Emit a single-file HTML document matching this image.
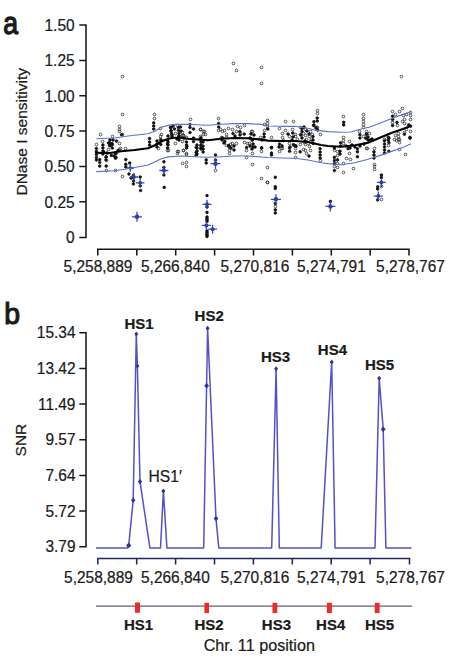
<!DOCTYPE html>
<html><head><meta charset="utf-8">
<style>
html,body{margin:0;padding:0;background:#fff;width:450px;height:658px;overflow:hidden}
svg{display:block}
text{font-family:"Liberation Sans",sans-serif;fill:#1a1a1a;stroke:#1a1a1a;stroke-width:0.22px}
</style></head>
<body>
<svg width="450" height="658" viewBox="0 0 450 658">
<!-- panel labels -->
<text transform="translate(3.3 33.9) scale(0.86 1)" font-size="31" style="stroke:#1a1a1a;stroke-width:1.25">a</text>
<text transform="translate(4.3 323.9) scale(0.94 1)" font-size="30.2" style="stroke:#1a1a1a;stroke-width:1.2">b</text>

<!-- ===== Panel a axes ===== -->
<g stroke="#181818" stroke-width="1.55" fill="none">
<path d="M79.3 25H86V237.4H79.3M79.3 60.4H86M79.3 95.7H86M79.3 131H86M79.3 166.4H86M79.3 201.7H86"/>
<path d="M97.8 255.6V249.3H409V255.6M136.8 249.3V255.6M175.7 249.3V255.6M214.6 249.3V255.6M253.5 249.3V255.6M292.4 249.3V255.6M331.3 249.3V255.6M370.2 249.3V255.6"/>
</g>
<g font-size="16.3" transform="scale(0.95 1)" text-anchor="end">
<text x="78.55" y="31.1">1.50</text>
<text x="78.55" y="66.5">1.25</text>
<text x="78.55" y="101.8">1.00</text>
<text x="78.55" y="137.1">0.75</text>
<text x="78.55" y="172.5">0.50</text>
<text x="78.55" y="207.8">0.25</text>
<text x="78.55" y="243.5">0</text>
</g>
<g font-size="16.3" transform="scale(0.95 1)" text-anchor="middle">
<text x="103.16" y="271.8">5,258,889</text>
<text x="184.63" y="271.8">5,266,840</text>
<text x="268.30" y="271.8">5,270,816</text>
<text x="348.84" y="271.8">5,274,791</text>
<text x="432.11" y="271.8">5,278,767</text>
</g>
<text font-size="15.5" text-anchor="middle" transform="translate(27.2 131.8) rotate(-90)">DNase I sensitivity</text>

<g fill="#fff" fill-opacity="0" stroke="#2a2a2a" stroke-width="0.80">
<circle cx="122.5" cy="76.5" r="1.35"/>
<circle cx="233.5" cy="63.5" r="1.35"/>
<circle cx="236.5" cy="70.5" r="1.35"/>
<circle cx="261.5" cy="67.5" r="1.35"/>
<circle cx="261.5" cy="83.5" r="1.35"/>
<circle cx="401.5" cy="76.5" r="1.35"/>
<circle cx="122.5" cy="114.5" r="1.35"/>
<circle cx="154.5" cy="114.5" r="1.35"/>
<circle cx="154.5" cy="118.5" r="1.35"/>
<circle cx="190.5" cy="119.5" r="1.35"/>
<circle cx="119.5" cy="126.5" r="1.35"/>
<circle cx="119.5" cy="129.5" r="1.35"/>
<circle cx="119.5" cy="131.5" r="1.35"/>
<circle cx="122.5" cy="134.5" r="1.35"/>
<circle cx="100.5" cy="134.5" r="1.35"/>
<circle cx="112.5" cy="136.5" r="1.35"/>
<circle cx="119.5" cy="143.5" r="1.35"/>
<circle cx="96.5" cy="144.5" r="1.35"/>
<circle cx="102.5" cy="141.5" r="1.35"/>
<circle cx="108.5" cy="149.5" r="1.35"/>
<circle cx="120.5" cy="148.5" r="1.35"/>
<circle cx="125.5" cy="148.5" r="1.35"/>
<circle cx="119.5" cy="149.5" r="1.35"/>
<circle cx="106.5" cy="160.5" r="1.35"/>
<circle cx="106.5" cy="170.5" r="1.35"/>
<circle cx="115.5" cy="170.5" r="1.35"/>
<circle cx="122.5" cy="176.5" r="1.35"/>
<circle cx="160.5" cy="128.5" r="1.35"/>
<circle cx="161.5" cy="134.5" r="1.35"/>
<circle cx="160.5" cy="136.5" r="1.35"/>
<circle cx="160.5" cy="139.5" r="1.35"/>
<circle cx="168.5" cy="150.5" r="1.35"/>
<circle cx="177.5" cy="125.5" r="1.35"/>
<circle cx="175.5" cy="133.5" r="1.35"/>
<circle cx="182.5" cy="135.5" r="1.35"/>
<circle cx="184.5" cy="138.5" r="1.35"/>
<circle cx="175.5" cy="143.5" r="1.35"/>
<circle cx="182.5" cy="141.5" r="1.35"/>
<circle cx="183.5" cy="135.5" r="1.35"/>
<circle cx="186.5" cy="137.5" r="1.35"/>
<circle cx="200.5" cy="129.5" r="1.35"/>
<circle cx="203.5" cy="131.5" r="1.35"/>
<circle cx="203.5" cy="134.5" r="1.35"/>
<circle cx="200.5" cy="136.5" r="1.35"/>
<circle cx="178.5" cy="151.5" r="1.35"/>
<circle cx="183.5" cy="150.5" r="1.35"/>
<circle cx="186.5" cy="153.5" r="1.35"/>
<circle cx="158.5" cy="148.5" r="1.35"/>
<circle cx="167.5" cy="150.5" r="1.35"/>
<circle cx="177.5" cy="151.5" r="1.35"/>
<circle cx="177.5" cy="153.5" r="1.35"/>
<circle cx="183.5" cy="150.5" r="1.35"/>
<circle cx="186.5" cy="154.5" r="1.35"/>
<circle cx="182.5" cy="163.5" r="1.35"/>
<circle cx="186.5" cy="162.5" r="1.35"/>
<circle cx="186.5" cy="166.5" r="1.35"/>
<circle cx="218.5" cy="118.5" r="1.35"/>
<circle cx="218.5" cy="130.5" r="1.35"/>
<circle cx="220.5" cy="129.5" r="1.35"/>
<circle cx="224.5" cy="130.5" r="1.35"/>
<circle cx="228.5" cy="128.5" r="1.35"/>
<circle cx="232.5" cy="129.5" r="1.35"/>
<circle cx="236.5" cy="131.5" r="1.35"/>
<circle cx="240.5" cy="133.5" r="1.35"/>
<circle cx="222.5" cy="131.5" r="1.35"/>
<circle cx="226.5" cy="134.5" r="1.35"/>
<circle cx="237.5" cy="126.5" r="1.35"/>
<circle cx="240.5" cy="127.5" r="1.35"/>
<circle cx="244.5" cy="125.5" r="1.35"/>
<circle cx="251.5" cy="131.5" r="1.35"/>
<circle cx="226.5" cy="137.5" r="1.35"/>
<circle cx="200.5" cy="129.5" r="1.35"/>
<circle cx="204.5" cy="131.5" r="1.35"/>
<circle cx="205.5" cy="134.5" r="1.35"/>
<circle cx="226.5" cy="145.5" r="1.35"/>
<circle cx="229.5" cy="147.5" r="1.35"/>
<circle cx="230.5" cy="144.5" r="1.35"/>
<circle cx="236.5" cy="143.5" r="1.35"/>
<circle cx="244.5" cy="142.5" r="1.35"/>
<circle cx="247.5" cy="143.5" r="1.35"/>
<circle cx="215.5" cy="170.5" r="1.35"/>
<circle cx="229.5" cy="150.5" r="1.35"/>
<circle cx="229.5" cy="153.5" r="1.35"/>
<circle cx="246.5" cy="150.5" r="1.35"/>
<circle cx="246.5" cy="157.5" r="1.35"/>
<circle cx="252.5" cy="153.5" r="1.35"/>
<circle cx="252.5" cy="164.5" r="1.35"/>
<circle cx="267.5" cy="120.5" r="1.35"/>
<circle cx="267.5" cy="123.5" r="1.35"/>
<circle cx="267.5" cy="126.5" r="1.35"/>
<circle cx="264.5" cy="124.5" r="1.35"/>
<circle cx="285.5" cy="121.5" r="1.35"/>
<circle cx="293.5" cy="121.5" r="1.35"/>
<circle cx="279.5" cy="128.5" r="1.35"/>
<circle cx="264.5" cy="130.5" r="1.35"/>
<circle cx="260.5" cy="137.5" r="1.35"/>
<circle cx="271.5" cy="137.5" r="1.35"/>
<circle cx="282.5" cy="133.5" r="1.35"/>
<circle cx="282.5" cy="137.5" r="1.35"/>
<circle cx="283.5" cy="140.5" r="1.35"/>
<circle cx="285.5" cy="130.5" r="1.35"/>
<circle cx="292.5" cy="129.5" r="1.35"/>
<circle cx="295.5" cy="136.5" r="1.35"/>
<circle cx="289.5" cy="136.5" r="1.35"/>
<circle cx="295.5" cy="134.5" r="1.35"/>
<circle cx="297.5" cy="139.5" r="1.35"/>
<circle cx="300.5" cy="134.5" r="1.35"/>
<circle cx="305.5" cy="135.5" r="1.35"/>
<circle cx="306.5" cy="139.5" r="1.35"/>
<circle cx="309.5" cy="136.5" r="1.35"/>
<circle cx="304.5" cy="142.5" r="1.35"/>
<circle cx="308.5" cy="143.5" r="1.35"/>
<circle cx="310.5" cy="131.5" r="1.35"/>
<circle cx="311.5" cy="139.5" r="1.35"/>
<circle cx="281.5" cy="148.5" r="1.35"/>
<circle cx="289.5" cy="143.5" r="1.35"/>
<circle cx="293.5" cy="144.5" r="1.35"/>
<circle cx="295.5" cy="148.5" r="1.35"/>
<circle cx="300.5" cy="144.5" r="1.35"/>
<circle cx="305.5" cy="144.5" r="1.35"/>
<circle cx="309.5" cy="146.5" r="1.35"/>
<circle cx="261.5" cy="151.5" r="1.35"/>
<circle cx="279.5" cy="151.5" r="1.35"/>
<circle cx="282.5" cy="148.5" r="1.35"/>
<circle cx="295.5" cy="152.5" r="1.35"/>
<circle cx="295.5" cy="157.5" r="1.35"/>
<circle cx="305.5" cy="150.5" r="1.35"/>
<circle cx="306.5" cy="153.5" r="1.35"/>
<circle cx="310.5" cy="150.5" r="1.35"/>
<circle cx="303.5" cy="149.5" r="1.35"/>
<circle cx="267.5" cy="167.5" r="1.35"/>
<circle cx="261.5" cy="178.5" r="1.35"/>
<circle cx="267.5" cy="182.5" r="1.35"/>
<circle cx="267.5" cy="182.5" r="1.35"/>
<circle cx="275.5" cy="206.5" r="1.35"/>
<circle cx="317.5" cy="110.5" r="1.35"/>
<circle cx="317.5" cy="113.5" r="1.35"/>
<circle cx="317.5" cy="127.5" r="1.35"/>
<circle cx="320.5" cy="134.5" r="1.35"/>
<circle cx="343.5" cy="116.5" r="1.35"/>
<circle cx="343.5" cy="137.5" r="1.35"/>
<circle cx="343.5" cy="140.5" r="1.35"/>
<circle cx="343.5" cy="143.5" r="1.35"/>
<circle cx="363.5" cy="114.5" r="1.35"/>
<circle cx="363.5" cy="118.5" r="1.35"/>
<circle cx="363.5" cy="121.5" r="1.35"/>
<circle cx="363.5" cy="124.5" r="1.35"/>
<circle cx="363.5" cy="127.5" r="1.35"/>
<circle cx="359.5" cy="131.5" r="1.35"/>
<circle cx="363.5" cy="136.5" r="1.35"/>
<circle cx="366.5" cy="134.5" r="1.35"/>
<circle cx="349.5" cy="141.5" r="1.35"/>
<circle cx="320.5" cy="160.5" r="1.35"/>
<circle cx="334.5" cy="150.5" r="1.35"/>
<circle cx="337.5" cy="151.5" r="1.35"/>
<circle cx="337.5" cy="155.5" r="1.35"/>
<circle cx="334.5" cy="166.5" r="1.35"/>
<circle cx="337.5" cy="163.5" r="1.35"/>
<circle cx="337.5" cy="167.5" r="1.35"/>
<circle cx="343.5" cy="163.5" r="1.35"/>
<circle cx="343.5" cy="172.5" r="1.35"/>
<circle cx="346.5" cy="158.5" r="1.35"/>
<circle cx="350.5" cy="159.5" r="1.35"/>
<circle cx="349.5" cy="153.5" r="1.35"/>
<circle cx="353.5" cy="168.5" r="1.35"/>
<circle cx="366.5" cy="148.5" r="1.35"/>
<circle cx="392.5" cy="111.5" r="1.35"/>
<circle cx="399.5" cy="111.5" r="1.35"/>
<circle cx="402.5" cy="108.5" r="1.35"/>
<circle cx="395.5" cy="114.5" r="1.35"/>
<circle cx="392.5" cy="122.5" r="1.35"/>
<circle cx="397.5" cy="125.5" r="1.35"/>
<circle cx="403.5" cy="115.5" r="1.35"/>
<circle cx="406.5" cy="114.5" r="1.35"/>
<circle cx="410.5" cy="112.5" r="1.35"/>
<circle cx="404.5" cy="119.5" r="1.35"/>
<circle cx="404.5" cy="123.5" r="1.35"/>
<circle cx="402.5" cy="121.5" r="1.35"/>
<circle cx="410.5" cy="115.5" r="1.35"/>
<circle cx="410.5" cy="119.5" r="1.35"/>
<circle cx="406.5" cy="129.5" r="1.35"/>
<circle cx="410.5" cy="131.5" r="1.35"/>
<circle cx="404.5" cy="132.5" r="1.35"/>
<circle cx="398.5" cy="133.5" r="1.35"/>
<circle cx="398.5" cy="136.5" r="1.35"/>
<circle cx="395.5" cy="135.5" r="1.35"/>
<circle cx="394.5" cy="139.5" r="1.35"/>
<circle cx="398.5" cy="139.5" r="1.35"/>
<circle cx="384.5" cy="139.5" r="1.35"/>
<circle cx="366.5" cy="131.5" r="1.35"/>
<circle cx="369.5" cy="133.5" r="1.35"/>
<circle cx="367.5" cy="148.5" r="1.35"/>
<circle cx="374.5" cy="148.5" r="1.35"/>
<circle cx="388.5" cy="145.5" r="1.35"/>
<circle cx="396.5" cy="140.5" r="1.35"/>
<circle cx="399.5" cy="139.5" r="1.35"/>
<circle cx="399.5" cy="142.5" r="1.35"/>
<circle cx="399.5" cy="149.5" r="1.35"/>
<circle cx="405.5" cy="154.5" r="1.35"/>
<circle cx="374.5" cy="164.5" r="1.35"/>
<circle cx="374.5" cy="166.5" r="1.35"/>
<circle cx="374.5" cy="169.5" r="1.35"/>
<circle cx="381.5" cy="186.5" r="1.35"/>
<circle cx="381.5" cy="199.5" r="1.35"/>
<circle cx="221.5" cy="137.5" r="1.35"/>
<circle cx="232.5" cy="143.5" r="1.35"/>
<circle cx="252.5" cy="131.5" r="1.35"/>
<circle cx="249.5" cy="143.5" r="1.35"/>
<circle cx="300.5" cy="127.5" r="1.35"/>
<circle cx="305.5" cy="129.5" r="1.35"/>
<circle cx="303.5" cy="133.5" r="1.35"/>
<circle cx="312.5" cy="134.5" r="1.35"/>
<circle cx="310.5" cy="141.5" r="1.35"/>
<circle cx="182.5" cy="132.5" r="1.35"/>
<circle cx="183.5" cy="135.5" r="1.35"/>
<circle cx="316.5" cy="127.5" r="1.35"/>
</g>
<g fill="#111" stroke="#111" stroke-width="0.8">
<circle cx="153.7" cy="122.9" r="1.30"/>
<circle cx="153.7" cy="126.0" r="1.30"/>
<circle cx="153.7" cy="129.0" r="1.30"/>
<circle cx="121.6" cy="134.7" r="1.30"/>
<circle cx="110.0" cy="139.9" r="1.30"/>
<circle cx="108.5" cy="143.0" r="1.30"/>
<circle cx="112.0" cy="143.6" r="1.30"/>
<circle cx="110.5" cy="145.5" r="1.30"/>
<circle cx="116.5" cy="141.1" r="1.30"/>
<circle cx="113.0" cy="140.0" r="1.30"/>
<circle cx="96.4" cy="148.5" r="1.30"/>
<circle cx="96.4" cy="151.5" r="1.30"/>
<circle cx="96.4" cy="154.5" r="1.30"/>
<circle cx="96.4" cy="157.5" r="1.30"/>
<circle cx="96.4" cy="160.0" r="1.30"/>
<circle cx="102.9" cy="145.0" r="1.30"/>
<circle cx="102.9" cy="148.0" r="1.30"/>
<circle cx="102.9" cy="151.0" r="1.30"/>
<circle cx="102.9" cy="154.0" r="1.30"/>
<circle cx="104.0" cy="152.3" r="1.30"/>
<circle cx="107.0" cy="153.0" r="1.30"/>
<circle cx="109.5" cy="142.8" r="1.30"/>
<circle cx="109.5" cy="145.5" r="1.30"/>
<circle cx="112.3" cy="144.7" r="1.30"/>
<circle cx="112.3" cy="148.0" r="1.30"/>
<circle cx="111.3" cy="155.4" r="1.30"/>
<circle cx="118.0" cy="150.5" r="1.30"/>
<circle cx="116.0" cy="153.6" r="1.30"/>
<circle cx="116.0" cy="157.3" r="1.30"/>
<circle cx="115.5" cy="153.1" r="1.30"/>
<circle cx="115.5" cy="158.2" r="1.30"/>
<circle cx="114.0" cy="156.0" r="1.30"/>
<circle cx="106.0" cy="159.8" r="1.30"/>
<circle cx="106.0" cy="157.3" r="1.30"/>
<circle cx="99.7" cy="159.6" r="1.30"/>
<circle cx="99.7" cy="162.5" r="1.30"/>
<circle cx="99.7" cy="166.1" r="1.30"/>
<circle cx="106.2" cy="156.8" r="1.30"/>
<circle cx="106.2" cy="166.1" r="1.30"/>
<circle cx="125.8" cy="159.6" r="1.30"/>
<circle cx="125.8" cy="164.3" r="1.30"/>
<circle cx="125.8" cy="167.0" r="1.30"/>
<circle cx="129.7" cy="163.0" r="1.30"/>
<circle cx="129.0" cy="174.0" r="1.30"/>
<circle cx="133.4" cy="175.5" r="1.30"/>
<circle cx="133.4" cy="184.0" r="1.30"/>
<circle cx="133.1" cy="177.5" r="1.30"/>
<circle cx="140.2" cy="177.0" r="1.30"/>
<circle cx="140.2" cy="186.0" r="1.30"/>
<circle cx="140.6" cy="190.5" r="1.30"/>
<circle cx="149.6" cy="138.5" r="1.30"/>
<circle cx="149.6" cy="142.0" r="1.30"/>
<circle cx="149.6" cy="145.0" r="1.30"/>
<circle cx="157.0" cy="141.0" r="1.30"/>
<circle cx="157.0" cy="144.0" r="1.30"/>
<circle cx="157.0" cy="147.0" r="1.30"/>
<circle cx="161.0" cy="140.0" r="1.30"/>
<circle cx="160.8" cy="144.5" r="1.30"/>
<circle cx="168.0" cy="136.0" r="1.30"/>
<circle cx="167.6" cy="140.0" r="1.30"/>
<circle cx="168.0" cy="142.0" r="1.30"/>
<circle cx="167.6" cy="144.0" r="1.30"/>
<circle cx="168.0" cy="145.0" r="1.30"/>
<circle cx="167.6" cy="148.0" r="1.30"/>
<circle cx="170.5" cy="127.5" r="1.30"/>
<circle cx="173.0" cy="126.0" r="1.30"/>
<circle cx="180.5" cy="127.0" r="1.30"/>
<circle cx="171.0" cy="131.0" r="1.30"/>
<circle cx="181.0" cy="131.0" r="1.30"/>
<circle cx="172.0" cy="135.0" r="1.30"/>
<circle cx="179.0" cy="136.0" r="1.30"/>
<circle cx="177.0" cy="139.0" r="1.30"/>
<circle cx="179.0" cy="140.0" r="1.30"/>
<circle cx="186.5" cy="142.0" r="1.30"/>
<circle cx="186.5" cy="145.0" r="1.30"/>
<circle cx="186.5" cy="148.0" r="1.30"/>
<circle cx="190.0" cy="124.5" r="1.30"/>
<circle cx="190.0" cy="127.5" r="1.30"/>
<circle cx="190.0" cy="132.5" r="1.30"/>
<circle cx="193.5" cy="129.0" r="1.30"/>
<circle cx="193.5" cy="138.0" r="1.30"/>
<circle cx="193.5" cy="141.5" r="1.30"/>
<circle cx="200.0" cy="139.0" r="1.30"/>
<circle cx="203.0" cy="142.0" r="1.30"/>
<circle cx="197.0" cy="145.0" r="1.30"/>
<circle cx="197.0" cy="148.0" r="1.30"/>
<circle cx="197.0" cy="151.0" r="1.30"/>
<circle cx="197.0" cy="154.0" r="1.30"/>
<circle cx="201.0" cy="145.0" r="1.30"/>
<circle cx="201.0" cy="148.0" r="1.30"/>
<circle cx="186.9" cy="146.2" r="1.30"/>
<circle cx="196.2" cy="147.5" r="1.30"/>
<circle cx="196.2" cy="152.5" r="1.30"/>
<circle cx="196.2" cy="155.0" r="1.30"/>
<circle cx="163.9" cy="161.8" r="1.30"/>
<circle cx="163.9" cy="167.4" r="1.30"/>
<circle cx="163.9" cy="174.9" r="1.30"/>
<circle cx="164.2" cy="187.4" r="1.30"/>
<circle cx="218.7" cy="123.5" r="1.30"/>
<circle cx="218.7" cy="127.0" r="1.30"/>
<circle cx="233.0" cy="133.5" r="1.30"/>
<circle cx="235.0" cy="136.0" r="1.30"/>
<circle cx="239.8" cy="131.6" r="1.30"/>
<circle cx="240.0" cy="135.0" r="1.30"/>
<circle cx="244.2" cy="134.1" r="1.30"/>
<circle cx="251.0" cy="134.0" r="1.30"/>
<circle cx="222.4" cy="137.9" r="1.30"/>
<circle cx="201.0" cy="137.9" r="1.30"/>
<circle cx="201.0" cy="142.0" r="1.30"/>
<circle cx="201.0" cy="146.0" r="1.30"/>
<circle cx="201.0" cy="149.0" r="1.30"/>
<circle cx="224.9" cy="141.6" r="1.30"/>
<circle cx="234.0" cy="146.0" r="1.30"/>
<circle cx="234.0" cy="150.0" r="1.30"/>
<circle cx="250.0" cy="146.0" r="1.30"/>
<circle cx="252.0" cy="149.0" r="1.30"/>
<circle cx="252.2" cy="140.3" r="1.30"/>
<circle cx="203.1" cy="146.2" r="1.30"/>
<circle cx="203.1" cy="149.0" r="1.30"/>
<circle cx="203.1" cy="152.0" r="1.30"/>
<circle cx="206.2" cy="159.9" r="1.30"/>
<circle cx="206.2" cy="163.0" r="1.30"/>
<circle cx="215.5" cy="155.0" r="1.30"/>
<circle cx="215.5" cy="160.0" r="1.30"/>
<circle cx="228.6" cy="145.6" r="1.30"/>
<circle cx="246.6" cy="147.5" r="1.30"/>
<circle cx="252.9" cy="146.9" r="1.30"/>
<circle cx="207.0" cy="195.6" r="1.30"/>
<circle cx="207.0" cy="207.0" r="1.30"/>
<circle cx="207.0" cy="212.4" r="1.30"/>
<circle cx="207.0" cy="218.6" r="1.30"/>
<circle cx="207.0" cy="221.5" r="1.30"/>
<circle cx="207.0" cy="231.0" r="1.30"/>
<circle cx="207.0" cy="234.0" r="1.30"/>
<circle cx="207.0" cy="236.5" r="1.30"/>
<circle cx="267.8" cy="129.0" r="1.30"/>
<circle cx="264.1" cy="134.0" r="1.30"/>
<circle cx="264.1" cy="137.0" r="1.30"/>
<circle cx="262.0" cy="140.0" r="1.30"/>
<circle cx="288.0" cy="134.0" r="1.30"/>
<circle cx="292.7" cy="133.0" r="1.30"/>
<circle cx="292.0" cy="140.0" r="1.30"/>
<circle cx="302.0" cy="128.5" r="1.30"/>
<circle cx="302.0" cy="131.5" r="1.30"/>
<circle cx="302.0" cy="138.0" r="1.30"/>
<circle cx="261.6" cy="147.8" r="1.30"/>
<circle cx="271.5" cy="147.8" r="1.30"/>
<circle cx="279.6" cy="144.1" r="1.30"/>
<circle cx="282.1" cy="145.9" r="1.30"/>
<circle cx="290.0" cy="147.0" r="1.30"/>
<circle cx="295.8" cy="145.9" r="1.30"/>
<circle cx="261.6" cy="148.1" r="1.30"/>
<circle cx="271.5" cy="147.5" r="1.30"/>
<circle cx="271.5" cy="153.1" r="1.30"/>
<circle cx="271.5" cy="155.0" r="1.30"/>
<circle cx="279.0" cy="146.9" r="1.30"/>
<circle cx="289.6" cy="148.1" r="1.30"/>
<circle cx="289.6" cy="151.2" r="1.30"/>
<circle cx="295.8" cy="146.2" r="1.30"/>
<circle cx="300.2" cy="151.8" r="1.30"/>
<circle cx="309.0" cy="156.0" r="1.30"/>
<circle cx="275.3" cy="177.3" r="1.30"/>
<circle cx="275.3" cy="186.7" r="1.30"/>
<circle cx="275.3" cy="188.5" r="1.30"/>
<circle cx="275.3" cy="203.6" r="1.30"/>
<circle cx="275.3" cy="209.9" r="1.30"/>
<circle cx="275.3" cy="213.0" r="1.30"/>
<circle cx="317.2" cy="118.0" r="1.30"/>
<circle cx="317.2" cy="121.0" r="1.30"/>
<circle cx="313.9" cy="121.7" r="1.30"/>
<circle cx="313.9" cy="125.0" r="1.30"/>
<circle cx="316.0" cy="128.0" r="1.30"/>
<circle cx="317.6" cy="130.0" r="1.30"/>
<circle cx="313.0" cy="136.6" r="1.30"/>
<circle cx="313.0" cy="140.0" r="1.30"/>
<circle cx="313.2" cy="143.4" r="1.30"/>
<circle cx="343.7" cy="122.3" r="1.30"/>
<circle cx="343.7" cy="125.0" r="1.30"/>
<circle cx="359.9" cy="134.7" r="1.30"/>
<circle cx="359.9" cy="138.0" r="1.30"/>
<circle cx="352.0" cy="145.0" r="1.30"/>
<circle cx="340.6" cy="142.8" r="1.30"/>
<circle cx="340.6" cy="146.0" r="1.30"/>
<circle cx="346.0" cy="146.0" r="1.30"/>
<circle cx="350.0" cy="148.0" r="1.30"/>
<circle cx="355.0" cy="147.0" r="1.30"/>
<circle cx="360.0" cy="146.0" r="1.30"/>
<circle cx="364.0" cy="144.0" r="1.30"/>
<circle cx="320.1" cy="148.7" r="1.30"/>
<circle cx="320.1" cy="152.0" r="1.30"/>
<circle cx="320.1" cy="155.0" r="1.30"/>
<circle cx="320.1" cy="158.0" r="1.30"/>
<circle cx="334.4" cy="148.1" r="1.30"/>
<circle cx="334.4" cy="157.4" r="1.30"/>
<circle cx="334.4" cy="160.5" r="1.30"/>
<circle cx="334.4" cy="163.5" r="1.30"/>
<circle cx="334.4" cy="170.5" r="1.30"/>
<circle cx="337.5" cy="159.9" r="1.30"/>
<circle cx="340.0" cy="151.2" r="1.30"/>
<circle cx="340.0" cy="154.0" r="1.30"/>
<circle cx="348.1" cy="148.7" r="1.30"/>
<circle cx="357.4" cy="148.7" r="1.30"/>
<circle cx="357.4" cy="151.8" r="1.30"/>
<circle cx="357.4" cy="156.8" r="1.30"/>
<circle cx="330.4" cy="201.4" r="1.30"/>
<circle cx="392.6" cy="116.2" r="1.30"/>
<circle cx="392.6" cy="119.5" r="1.30"/>
<circle cx="392.6" cy="125.5" r="1.30"/>
<circle cx="397.0" cy="122.4" r="1.30"/>
<circle cx="408.8" cy="124.9" r="1.30"/>
<circle cx="410.6" cy="126.1" r="1.30"/>
<circle cx="404.4" cy="134.2" r="1.30"/>
<circle cx="410.0" cy="137.3" r="1.30"/>
<circle cx="388.3" cy="137.3" r="1.30"/>
<circle cx="388.3" cy="140.0" r="1.30"/>
<circle cx="366.5" cy="134.0" r="1.30"/>
<circle cx="368.0" cy="137.0" r="1.30"/>
<circle cx="370.0" cy="140.0" r="1.30"/>
<circle cx="365.9" cy="138.2" r="1.30"/>
<circle cx="368.0" cy="140.0" r="1.30"/>
<circle cx="372.0" cy="139.0" r="1.30"/>
<circle cx="374.0" cy="151.9" r="1.30"/>
<circle cx="374.0" cy="155.0" r="1.30"/>
<circle cx="374.0" cy="158.0" r="1.30"/>
<circle cx="384.5" cy="140.7" r="1.30"/>
<circle cx="384.5" cy="144.0" r="1.30"/>
<circle cx="384.5" cy="147.0" r="1.30"/>
<circle cx="384.5" cy="150.0" r="1.30"/>
<circle cx="384.5" cy="153.0" r="1.30"/>
<circle cx="388.9" cy="138.2" r="1.30"/>
<circle cx="388.9" cy="142.6" r="1.30"/>
<circle cx="388.9" cy="151.3" r="1.30"/>
<circle cx="410.0" cy="138.2" r="1.30"/>
<circle cx="381.4" cy="175.0" r="1.30"/>
<circle cx="381.4" cy="177.5" r="1.30"/>
<circle cx="377.7" cy="186.8" r="1.30"/>
<circle cx="377.7" cy="189.0" r="1.30"/>
<circle cx="377.7" cy="199.9" r="1.30"/>
<circle cx="222.0" cy="140.0" r="1.30"/>
<circle cx="224.0" cy="143.0" r="1.30"/>
<circle cx="229.0" cy="146.0" r="1.30"/>
<circle cx="231.0" cy="148.0" r="1.30"/>
<circle cx="250.0" cy="138.0" r="1.30"/>
<circle cx="254.0" cy="135.0" r="1.30"/>
<circle cx="253.0" cy="144.0" r="1.30"/>
<circle cx="255.0" cy="147.0" r="1.30"/>
<circle cx="307.0" cy="131.0" r="1.30"/>
<circle cx="309.0" cy="134.0" r="1.30"/>
<circle cx="305.0" cy="141.0" r="1.30"/>
<circle cx="171.0" cy="127.5" r="1.30"/>
<circle cx="171.0" cy="130.5" r="1.30"/>
<circle cx="171.5" cy="133.5" r="1.30"/>
<circle cx="172.0" cy="136.5" r="1.30"/>
<circle cx="178.5" cy="127.5" r="1.30"/>
<circle cx="178.5" cy="130.5" r="1.30"/>
<circle cx="179.0" cy="133.5" r="1.30"/>
<circle cx="179.0" cy="136.5" r="1.30"/>
<circle cx="174.5" cy="129.0" r="1.30"/>
<circle cx="304.0" cy="127.0" r="1.30"/>
<circle cx="301.0" cy="135.0" r="1.30"/>
<circle cx="313.6" cy="125.5" r="1.30"/>
<circle cx="293.0" cy="137.0" r="1.30"/>
<circle cx="293.5" cy="145.0" r="1.30"/>
<circle cx="131.0" cy="178.0" r="1.30"/>
<circle cx="133.5" cy="181.0" r="1.30"/>
<circle cx="207.0" cy="220.0" r="1.30"/>
<circle cx="207.0" cy="232.5" r="1.30"/>
<circle cx="207.0" cy="235.2" r="1.30"/>
<circle cx="207.0" cy="217.0" r="1.30"/>
</g>
<g stroke="#2f4cb8" stroke-width="1.3" fill="#2a40a8">
<path d="M132.0 216.8H142.0M137.0 211.8V221.8"/><circle cx="137.0" cy="216.8" r="2.2" stroke="none"/>
<path d="M126.6 168.0H134.1M130.3 164.2V171.8"/><circle cx="130.3" cy="168.0" r="1.7" stroke="none"/>
<path d="M130.0 177.0H138.0M134.0 173.0V181.0"/><circle cx="134.0" cy="177.0" r="1.8" stroke="none"/>
<path d="M135.9 182.8H144.4M140.2 178.6V187.1"/><circle cx="140.2" cy="182.8" r="1.9" stroke="none"/>
<path d="M159.4 170.5H168.4M163.9 166.0V175.0"/><circle cx="163.9" cy="170.5" r="2.0" stroke="none"/>
<path d="M210.5 163.7H220.5M215.5 158.7V168.7"/><circle cx="215.5" cy="163.7" r="2.2" stroke="none"/>
<path d="M202.5 204.3H211.5M207.0 199.8V208.8"/><circle cx="207.0" cy="204.3" r="2.0" stroke="none"/>
<path d="M201.9 225.4H210.9M206.4 220.9V229.9"/><circle cx="206.4" cy="225.4" r="2.0" stroke="none"/>
<path d="M208.1 229.2H217.1M212.6 224.7V233.7"/><circle cx="212.6" cy="229.2" r="2.0" stroke="none"/>
<path d="M270.9 199.3H280.9M275.9 194.3V204.3"/><circle cx="275.9" cy="199.3" r="2.2" stroke="none"/>
<path d="M325.4 206.4H335.4M330.4 201.4V211.4"/><circle cx="330.4" cy="206.4" r="2.2" stroke="none"/>
<path d="M376.9 182.4H385.9M381.4 177.9V186.9"/><circle cx="381.4" cy="182.4" r="2.0" stroke="none"/>
<path d="M373.8 196.1H382.8M378.3 191.6V200.6"/><circle cx="378.3" cy="196.1" r="2.0" stroke="none"/>
</g>
<!-- envelopes + trend -->
<g fill="none" stroke-linejoin="round" stroke-linecap="round">
<path stroke="#5a70d2" stroke-width="1.15" d="M96.7 138.7L114.7 138.0L128.0 136.0L148.0 133.8L154.7 131.3L161.3 127.3L168.0 125.4L174.7 124.4L188.0 124.2L201.3 125.0L208.0 125.3L221.3 124.2L234.7 123.6L248.0 123.6L261.3 124.4L268.0 126.0L281.3 126.3L294.7 126.3L308.0 128.3L314.7 130.1L328.0 131.6L341.3 132.3L350.7 132.0L361.3 129.0L370.0 127.0L381.1 122.8L392.2 118.3L403.3 114.4L411.0 111.7"/>
<path stroke="#5a70d2" stroke-width="1.15" d="M96.7 171.6L114.7 170.7L128.0 168.7L148.0 165.0L154.7 162.0L161.3 158.7L168.0 156.9L181.3 156.0L194.7 156.7L208.0 157.3L221.3 156.7L234.7 156.0L248.0 156.0L261.3 157.0L268.0 157.5L281.3 158.0L294.7 158.3L308.0 160.0L321.3 162.7L328.0 163.6L341.3 164.7L354.7 162.7L368.0 159.3L381.1 155.1L392.2 151.1L403.3 147.2L410.6 143.9"/>
<path stroke="#000" stroke-width="2.1" d="M96.0 152.7L108.0 153.2L121.3 151.3L134.7 150.0L148.0 148.2L156.0 144.8L161.3 141.5L168.0 138.8L174.7 137.8L181.0 137.8L188.0 138.7L201.0 139.8L208.0 140.3L221.0 138.8L235.0 138.0L248.0 138.3L261.0 139.6L268.0 140.6L281.0 141.0L295.0 141.0L308.0 142.0L321.0 145.0L328.0 146.0L341.0 146.7L355.0 145.3L368.0 142.7L381.0 137.3L392.0 132.8L403.0 128.9L410.5 126.0"/>
</g>

<!-- ===== Panel b axes ===== -->
<g stroke="#181818" stroke-width="1.55" fill="none">
<path d="M79.3 332.7H86V546.7H79.3M79.3 368.4H86M79.3 404H86M79.3 439.7H86M79.3 475.4H86M79.3 511H86"/>
<path stroke="#24245e" d="M97.8 564.4V558.4H409.5V564.4M136.7 558.4V564.4M175.6 558.4V564.4M214.5 558.4V564.4M253.4 558.4V564.4M292.3 558.4V564.4M331.2 558.4V564.4M370.1 558.4V564.4"/>
</g>
<g font-size="16.3" transform="scale(0.95 1)" text-anchor="end">
<text x="79.47" y="338.5">15.34</text>
<text x="79.47" y="374.2">13.42</text>
<text x="79.47" y="409.8">11.49</text>
<text x="79.47" y="445.5">9.57</text>
<text x="79.47" y="481.2">7.64</text>
<text x="79.47" y="516.8">5.72</text>
<text x="79.47" y="552.5">3.79</text>
</g>
<g font-size="16.3" transform="scale(0.95 1)" text-anchor="middle">
<text x="103.68" y="582.7">5,258,889</text>
<text x="184.63" y="582.7">5,266,840</text>
<text x="268.30" y="582.7">5,270,816</text>
<text x="348.84" y="582.7">5,274,791</text>
<text x="432.11" y="582.7">5,278,767</text>
</g>
<text font-size="15.5" text-anchor="middle" transform="translate(26.4 440.1) rotate(-90)">SNR</text>

<!-- SNR trace -->
<path fill="none" stroke="#5450ca" stroke-width="1.5" stroke-linejoin="round"
 d="M96 547.9H127.5L128.7 545.4L133.2 500.3L136.3 334L137.4 366L140 481.6L149.9 547.9H160.5L163.4 491L166.9 547.9H203.7L206.6 385.7L207.6 328.3L216 518.6L218.8 547.9H271.7L276.1 368.7L279.3 547.9H321.2L331.7 361.9L335.1 547.9H375L379.2 378.3L383.2 429.2L385.9 547.9H411.5"/>
<g fill="#2a34a0">
<path d="M128.7 542.6l2.6 2.8l-2.6 2.8l-2.6 -2.8z"/>
<path d="M133.2 497.6l2.2 2.7l-2.2 2.7l-2.2 -2.7z"/>
<path d="M136.3 331.5l2 2.5l-2 2.5l-2 -2.5z"/>
<path d="M137.4 363.5l2 2.5l-2 2.5l-2 -2.5z"/>
<path d="M140 479l2.2 2.6l-2.2 2.6l-2.2 -2.6z"/>
<path d="M163.4 488.5l2 2.5l-2 2.5l-2 -2.5z"/>
<path d="M206.6 383l2.4 2.7l-2.4 2.7l-2.4 -2.7z"/>
<path d="M207.6 325.8l2 2.5l-2 2.5l-2 -2.5z"/>
<path d="M216 516l2.4 2.6l-2.4 2.6l-2.4 -2.6z"/>
<path d="M276.1 366.2l2 2.5l-2 2.5l-2 -2.5z"/>
<path d="M331.7 359.4l2 2.5l-2 2.5l-2 -2.5z"/>
<path d="M379.2 375.8l2 2.5l-2 2.5l-2 -2.5z"/>
<path d="M383.2 426.5l2.4 2.7l-2.4 2.7l-2.4 -2.7z"/>
</g>
<g font-size="15" font-weight="bold" text-anchor="middle">
<text x="139" y="329.3">HS1</text>
<text x="209.2" y="321.3">HS2</text>
<text x="275.5" y="361.7">HS3</text>
<text x="332.4" y="354.7">HS4</text>
<text x="379.6" y="369.8">HS5</text>
</g>
<text x="148.6" y="482.2" font-size="15.6">HS1′</text>

<!-- chromosome track -->
<path d="M96 606.2H412" stroke="#606078" stroke-width="1.3"/>
<g fill="#ee2a2a">
<rect x="135" y="602.5" width="5" height="10.3"/>
<rect x="204.4" y="602.8" width="4.6" height="10.3"/>
<rect x="272.5" y="602.8" width="4.8" height="10.3"/>
<rect x="326.9" y="602.8" width="5" height="10.3"/>
<rect x="374.8" y="602.8" width="4.8" height="10.3"/>
</g>
<g font-size="15" font-weight="bold" text-anchor="middle">
<text x="138.6" y="629.8">HS1</text>
<text x="209" y="629.8">HS2</text>
<text x="276.4" y="629.8">HS3</text>
<text x="330.7" y="629.8">HS4</text>
<text x="379.6" y="629.8">HS5</text>
</g>
<text x="259.3" y="651.2" font-size="16.2" text-anchor="middle">Chr. 11 position</text>

</svg>
</body></html>
